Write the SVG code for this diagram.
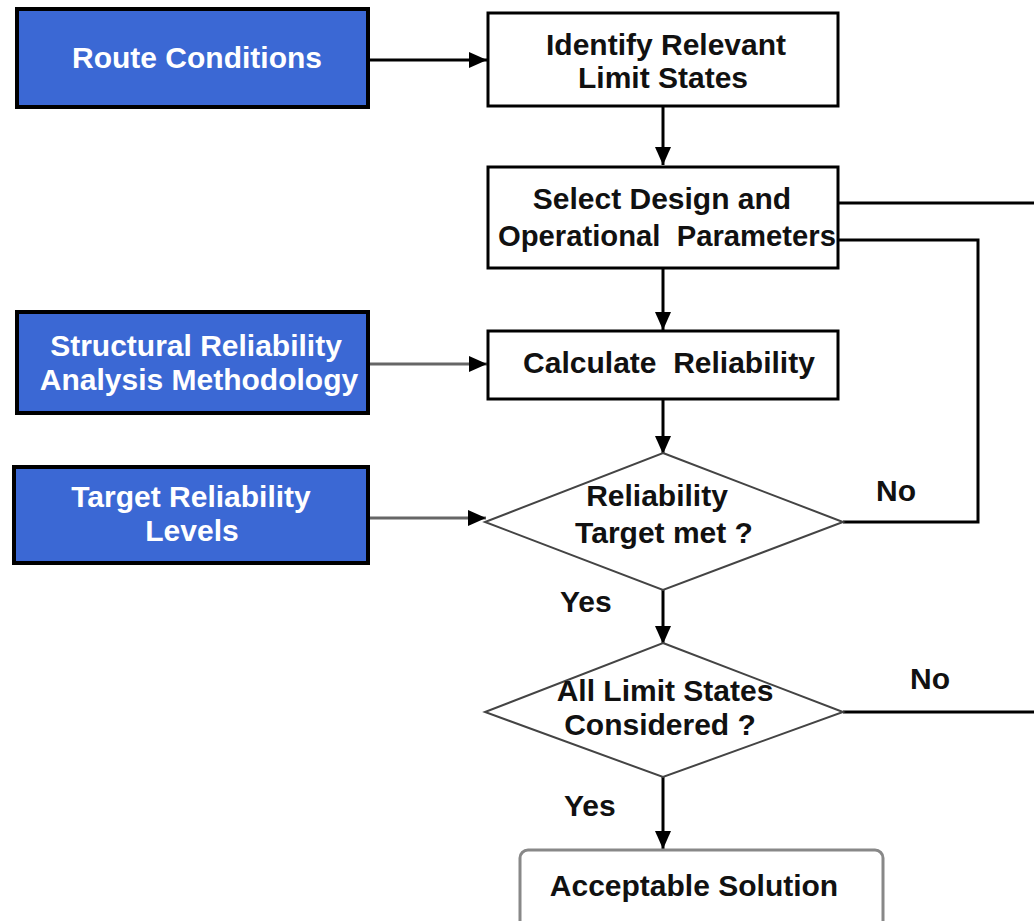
<svg xmlns="http://www.w3.org/2000/svg" width="1034" height="921" viewBox="0 0 1034 921">
<style>
.blue{fill:#3b68d4;stroke:#000;stroke-width:4}
.box{fill:#fff;stroke:#000;stroke-width:3}
.dia{fill:#fff;stroke:#444;stroke-width:2}
.term{fill:#fff;stroke:#888;stroke-width:3}
text{font-family:"Liberation Sans",Arial,sans-serif;font-weight:bold;font-size:30px;text-anchor:middle}
.wt{fill:#fff}
.bt{fill:#111}
.lbl{fill:#111;text-anchor:start}
.c{fill:none;stroke:#000;stroke-width:3}
.cg{fill:none;stroke:#666;stroke-width:3}
</style>
<defs>
<marker id="ah2" viewBox="0 0 10 10" refX="10" refY="5" markerWidth="18" markerHeight="16" orient="auto" markerUnits="userSpaceOnUse" preserveAspectRatio="none">
<path d="M0,0 L10,5 L0,10 z" fill="#000"/>
</marker>
</defs>
<g id="connectors">
<line class="c" x1="368" y1="60" x2="487" y2="60" marker-end="url(#ah2)"/>
<line class="c" x1="663" y1="106" x2="663" y2="165" marker-end="url(#ah2)"/>
<line class="c" x1="663" y1="268" x2="663" y2="330" marker-end="url(#ah2)"/>
<line class="cg" x1="368" y1="364" x2="487" y2="364" marker-end="url(#ah2)"/>
<line class="c" x1="663" y1="399" x2="663" y2="454" marker-end="url(#ah2)"/>
<line class="cg" x1="368" y1="518" x2="486" y2="518" stroke-width="4" marker-end="url(#ah2)"/>
<line class="c" x1="663" y1="590" x2="663" y2="644" marker-end="url(#ah2)"/>
<line class="c" x1="663" y1="777" x2="663" y2="849" marker-end="url(#ah2)"/>
<polyline class="c" points="843,522 978,522 978,240 838,240"/>
<line class="c" x1="838" y1="203" x2="1034" y2="203"/>
<line class="c" x1="843" y1="712" x2="1034" y2="712"/>
<text class="lbl" x="876" y="501">No</text>
<text class="lbl" x="910" y="689">No</text>
<text class="lbl" x="560" y="612">Yes</text>
<text class="lbl" x="564" y="816">Yes</text>
</g>
<g id="route">
<rect class="blue" x="17" y="9" width="351" height="98"/>
<text class="wt" x="197" y="68">Route Conditions</text>
</g>
<g id="identify">
<rect class="box" x="488" y="13" width="350" height="93"/>
<text class="bt" x="666" y="55">Identify Relevant</text>
<text class="bt" x="663" y="88">Limit States</text>
</g>
<g id="select">
<rect class="box" x="488" y="167" width="350" height="101"/>
<text class="bt" x="662" y="209">Select Design and</text>
<text class="bt" x="667" y="246" textLength="338" lengthAdjust="spacingAndGlyphs">Operational&#160; Parameters</text>
</g>
<g id="structural">
<rect class="blue" x="17" y="312" width="351" height="101"/>
<text class="wt" x="196" y="356">Structural Reliability</text>
<text class="wt" x="199" y="390">Analysis Methodology</text>
</g>
<g id="calculate">
<rect class="box" x="488" y="331" width="350" height="68"/>
<text class="bt" x="669" y="373">Calculate&#160; Reliability</text>
</g>
<g id="target">
<rect class="blue" x="14" y="467" width="354" height="96"/>
<text class="wt" x="191" y="507">Target Reliability</text>
<text class="wt" x="192" y="541">Levels</text>
</g>
<g id="reliability-met">
<polygon class="dia" points="663,453 843,522 663,590 485,522"/>
<text class="bt" x="657" y="506">Reliability</text>
<text class="bt" x="664" y="543">Target met ?</text>
</g>
<g id="all-limit">
<polygon class="dia" points="663,643 843,712 663,777 485,712"/>
<text class="bt" x="665" y="701">All Limit States</text>
<text class="bt" x="660" y="735">Considered ?</text>
</g>
<g id="acceptable">
<rect class="term" x="520" y="850" width="363" height="90" rx="8"/>
<text class="bt" x="694" y="896">Acceptable Solution</text>
</g>
</svg>
